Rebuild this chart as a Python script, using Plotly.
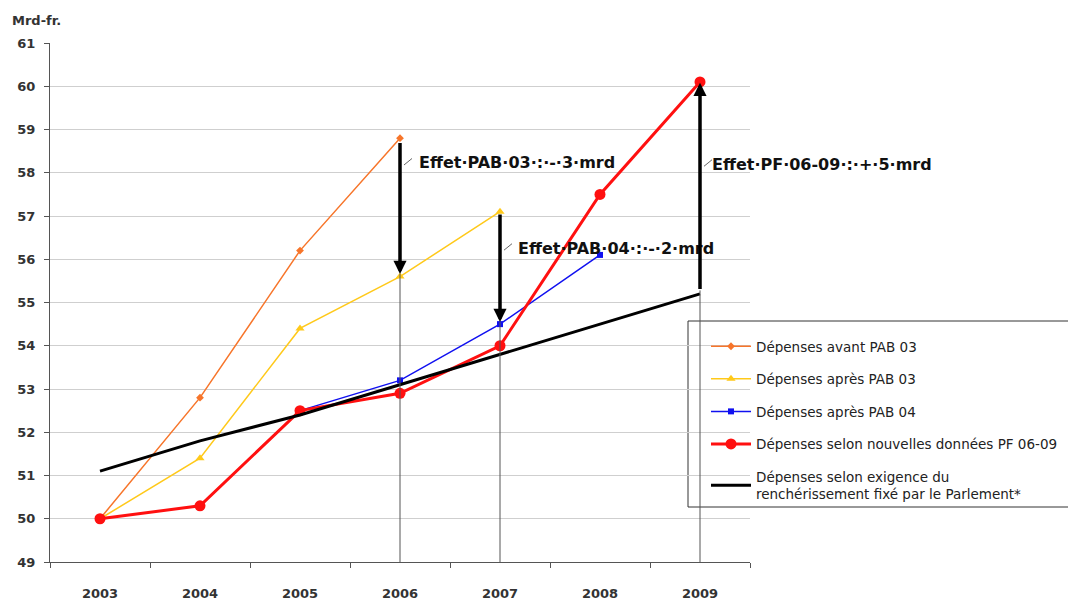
import plotly.graph_objects as go

years = ["2003", "2004", "2005", "2006", "2007", "2008", "2009"]

avant_pab03 = [50.0, 52.8, 56.2, 58.8, None, None, None]
apres_pab03 = [50.0, 51.4, 54.4, 55.6, 57.1, None, None]
apres_pab04 = [None, None, 52.5, 53.2, 54.5, 56.1, None]
pf_0609 = [50.0, 50.3, 52.5, 52.9, 54.0, 57.5, 60.1]
parlement = [51.1, 51.8, 52.4, 53.1, 53.8, 54.5, 55.2]

series_names = [
    "Dépenses avant PAB 03",
    "Dépenses après PAB 03",
    "Dépenses après PAB 04",
    "Dépenses selon nouvelles données PF 06-09",
    "Dépenses selon exigence du<br>renchérissement fixé par le Parlement*",
]

effect_years = ["2006", "2007", "2009"]
effect_from = [58.72, 57.07, 55.28]
effect_to = [55.66, 54.55, 60.08]
effect_labels = [
    "Effet·PAB·03·:·-·3·mrd",
    "Effet·PAB·04·:·-·2·mrd",
    "Effet·PF·06-09·:·+·5·mrd",
]
effect_label_y = [58.23, 56.26, 58.2]
effect_label_shift = [17, 16, 10]

font = "DejaVu Sans, Verdana, sans-serif"

# the page body adds an 8px margin; the figure is sized to fill the rest
W, H = 1068, 595
L, T = 42, 35
PW, PH = 700, 519

fig = go.Figure()

styles = [
    dict(color="#F7752A", width=1.5, symbol="diamond", size=6),
    dict(color="#FFC91A", width=1.5, symbol="triangle-up", size=8),
    dict(color="#1010F0", width=1.5, symbol="square", size=6),
    dict(color="#FF1010", width=3, symbol="circle", size=11),
]
data = [avant_pab03, apres_pab03, apres_pab04, pf_0609]
for i, (vals, st) in enumerate(zip(data, styles)):
    fig.add_trace(go.Scatter(
        x=years, y=vals, name=series_names[i], mode="lines+markers",
        line=dict(color=st["color"], width=st["width"]),
        marker=dict(symbol=st["symbol"], size=st["size"], color=st["color"]),
        legendgroup=f"g{i}",
    ))
fig.add_trace(go.Scatter(
    x=years, y=parlement, name=series_names[4], mode="lines",
    line=dict(color="#000000", width=3), legendgroup="g4",
))

# thin vertical lines, arrows and labels
for yr, y0, y1, lab, ly, sh in zip(effect_years, effect_from, effect_to, effect_labels,
                                    effect_label_y, effect_label_shift):
    xi = years.index(yr)
    low = min(y0, y1)
    fig.add_shape(type="line", xref="x", yref="y", x0=xi, x1=xi, y0=49, y1=low,
                  line=dict(color="#555555", width=1))
    fig.add_annotation(x=xi, y=y1, ax=xi, ay=y0, xref="x", yref="y", axref="x", ayref="y",
                       showarrow=True, arrowhead=2, arrowsize=0.75, arrowwidth=3.5,
                       arrowcolor="#000000", text="")
    fig.add_annotation(x=xi, y=ly, xref="x", yref="y", xshift=sh, showarrow=False,
                       xanchor="left", yanchor="middle", text=f"<b>{lab}</b>",
                       font=dict(family=font, size=16, color="#111111"))
    fig.add_shape(type="line", xref="x", yref="y",
                  x0=xi + 0.04, x1=xi + 0.12, y0=ly - 0.05, y1=ly + 0.1,
                  line=dict(color="#666666", width=1))

fig.add_annotation(xref="paper", yref="paper", x=-40 / PW, y=1 + 23 / PH, xanchor="left",
                   yanchor="middle", showarrow=False, text="<b>Mrd-fr.</b>",
                   font=dict(family=font, size=13, color="#333333"))

# legend frame (page coords: x 688..1075, y 321..507; plot area starts at 50,43)
fig.add_shape(type="rect", xref="paper", yref="paper",
              x0=(688 - 50) / PW, x1=(1075 - 50) / PW,
              y0=(562 - 507) / PH, y1=(562 - 321) / PH,
              line=dict(color="#333333", width=1), fillcolor="white", layer="below")

fig.update_layout(
    width=W, height=H,
    margin=dict(l=L, r=W - L - PW, t=T, b=H - T - PH, pad=0),
    paper_bgcolor="white", plot_bgcolor="rgba(0,0,0,0)",
    font=dict(family=font, size=12, color="#333333"),
    showlegend=True,
    legend=dict(
        x=(706 - 50) / PW, y=(562 - 331) / PH, xanchor="left", yanchor="top",
        bgcolor="rgba(0,0,0,0)", borderwidth=0, traceorder="grouped",
        tracegroupgap=12, font=dict(family=font, size=13.5, color="#222222"),
        itemwidth=40,
    ),
    xaxis=dict(
        type="category", range=[-0.5, 6.5], showgrid=False, showline=True,
        linecolor="#555555", linewidth=1, ticks="outside", ticklen=5, tickcolor="#555555",
        tickson="boundaries", ticklabelstandoff=19, automargin=False,
        tickfont=dict(family=font, size=13, color="#333333"),
        tickprefix="<b>", ticksuffix="</b>",
    ),
    yaxis=dict(
        range=[49, 61], dtick=1, showgrid=True, gridcolor="#CFCFCF", gridwidth=1,
        showline=True, linecolor="#555555", linewidth=1, ticks="outside", ticklen=5,
        tickcolor="#555555", ticklabelstandoff=6, zeroline=False, automargin=False,
        tickfont=dict(family=font, size=13, color="#333333"),
        tickprefix="<b>", ticksuffix="</b>",
    ),
)

fig.write_html("out.html")
